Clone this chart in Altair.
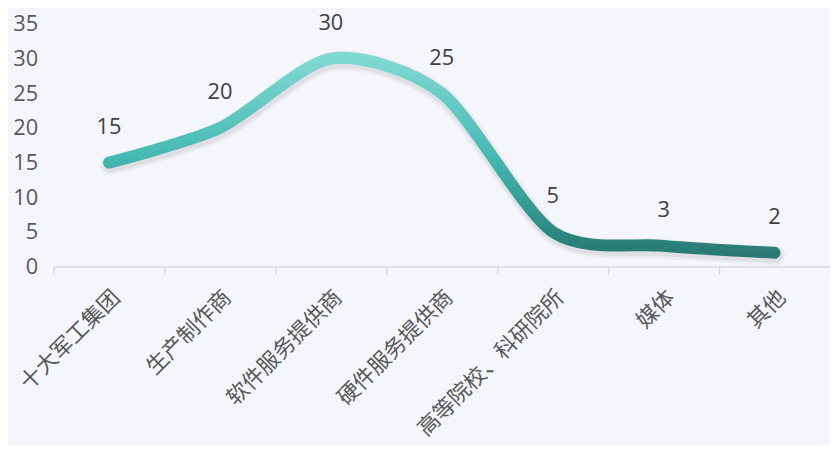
import altair as alt
import pandas as pd

categories = ["十大军工集团", "生产制作商", "软件服务提供商", "硬件服务提供商",
              "高等院校、科研院所", "媒体", "其他"]
values = [15, 20, 30, 25, 5, 3, 2]
y_ticks = [0, 5, 10, 15, 20, 25, 30, 35]

df = pd.DataFrame({"category": categories, "value": values})

x_enc = alt.X(
    "category:N", sort=categories, title=None,
    scale=alt.Scale(type="band", paddingInner=0, paddingOuter=0),
    axis=alt.Axis(
        labelAngle=-45, labelFontSize=22, labelFont="Noto Sans CJK SC",
        labelColor="#595959", domainColor="#d9d9d9", domainWidth=1.5,
        tickColor="#d9d9d9", tickSize=7, tickWidth=1.5, tickBand="extent",
        labelPadding=13, labelOffset=0, labelAlign="right", labelBaseline="top",
        labelLimit=400, labelOverlap=False,
    ),
)
y_enc = alt.Y(
    "value:Q", title=None,
    scale=alt.Scale(domain=[0, 35], nice=False),
    axis=alt.Axis(values=y_ticks, grid=False, domain=False, ticks=False,
                  labelFontSize=22, labelFont="Open Sans", labelColor="#595959",
                  labelPadding=16),
)

base = alt.Chart(df).encode(x=x_enc, y=y_enc)

interp = dict(interpolate="cardinal", tension=0.2)

shadow1 = base.mark_line(**interp, strokeWidth=20, stroke="#000000",
                         opacity=0.035, strokeCap="round", yOffset=3, xOffset=1)
shadow2 = base.mark_line(**interp, strokeWidth=15, stroke="#000000",
                         opacity=0.06, strokeCap="round", yOffset=3, xOffset=1)

grad = alt.Gradient(
    gradient="linear", x1=0, x2=0, y1=0, y2=1,
    stops=[
        alt.GradientStop(color="#80d8d2", offset=0),
        alt.GradientStop(color="#45bab2", offset=0.5),
        alt.GradientStop(color="#2c8b82", offset=0.88),
        alt.GradientStop(color="#2a7a73", offset=1),
    ],
)
line = base.mark_line(**interp, strokeWidth=12, stroke=grad, strokeCap="round")

labels = base.mark_text(dy=-36, fontSize=22, font="Open Sans", color="#404040",
                        baseline="middle").encode(text="value:Q")

chart = alt.layer(shadow1, shadow2, line, labels).properties(
    width=784, height=245,
    autosize=alt.AutoSizeParams(type="none"),
    padding={"left": 46, "top": 14, "right": 0, "bottom": 178},
    background="#f5f6fc",
).configure_view(stroke=None)

chart.save("out.html", embed_options={"renderer": "svg", "actions": False})
